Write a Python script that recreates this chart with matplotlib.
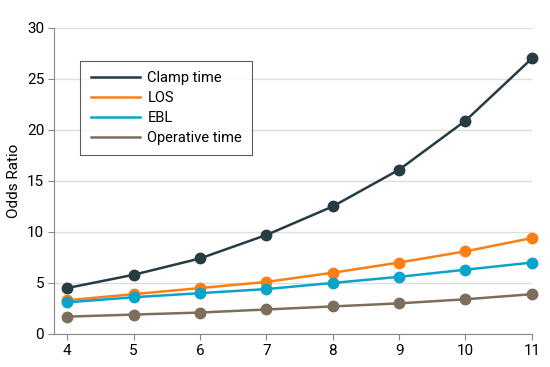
import matplotlib.pyplot as plt

# Data
x = [4, 5, 6, 7, 8, 9, 10, 11]
clamp_time = [4.5, 5.8, 7.4, 9.7, 12.5, 16.1, 20.9, 27.0]
los = [3.3, 3.9, 4.5, 5.1, 6.0, 7.0, 8.1, 9.4]
ebl = [3.1, 3.6, 4.0, 4.4, 5.0, 5.6, 6.3, 7.0]
operative_time = [1.7, 1.9, 2.1, 2.4, 2.7, 3.0, 3.4, 3.9]

names = ['Clamp time', 'LOS', 'EBL', 'Operative time']
colors = ['#253c42', '#fb7f14', '#0aa3cb', '#7d6e5b']

plt.rcParams['font.family'] = ['Roboto', 'DejaVu Sans']

fig = plt.figure(figsize=(5.5, 3.67), dpi=100)
ax = fig.add_axes([0.098, 0.09, 0.869, 0.834])

for series, name, c in zip([clamp_time, los, ebl, operative_time], names, colors):
    ax.plot(x, series, color=c, lw=1.8, marker='o', ms=7.5, label=name,
            clip_on=False, zorder=3)

ax.set_xlim(3.8, 11)
ax.set_ylim(0, 30)
ax.set_xticks(x)
ax.set_yticks(range(0, 31, 5))
ax.yaxis.grid(True, color='#dddddd', lw=1)
ax.set_axisbelow(True)
for s in ['top', 'right']:
    ax.spines[s].set_visible(False)
for s in ['left', 'bottom']:
    ax.spines[s].set_color('#888888')
ax.tick_params(colors='#888888', labelcolor='black', labelsize=11, length=4, pad=3)
ax.set_ylabel('Odds Ratio', fontsize=11, labelpad=4)

leg = ax.legend(loc='upper left', bbox_to_anchor=(0.04, 0.915), fontsize=10.5,
                frameon=True, fancybox=False, handlelength=3.4,
                handletextpad=0.5, borderpad=0.7, labelspacing=0.4)
for h in leg.legend_handles:
    h.set_marker('')
leg.get_frame().set_edgecolor('#333333')
leg.get_frame().set_linewidth(0.8)

fig.savefig('out.png', dpi=100)
